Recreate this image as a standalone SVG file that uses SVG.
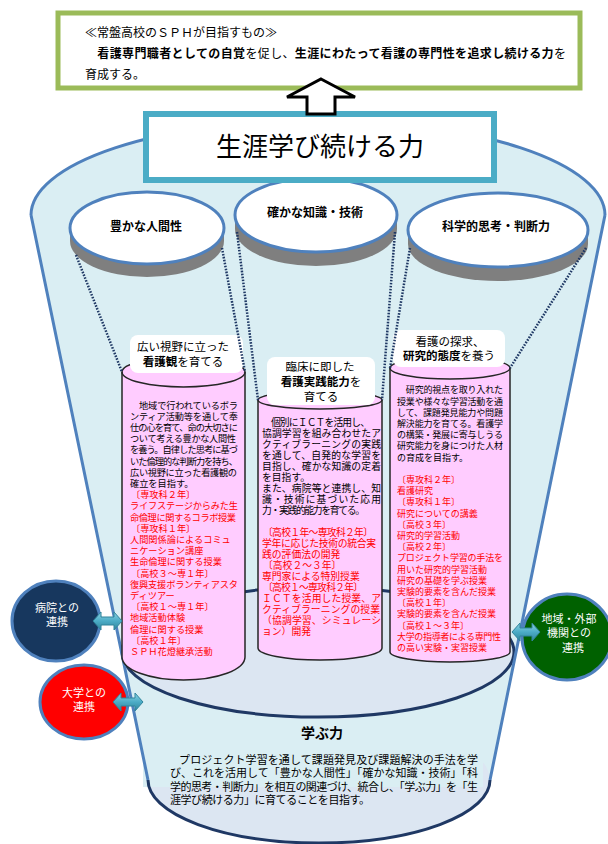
<svg xmlns="http://www.w3.org/2000/svg" width="608" height="844" viewBox="0 0 608 844">
<style>
text{font-family:"Liberation Sans","Noto Sans CJK JP",sans-serif;fill:#000}
.b{font-weight:bold}
.r{fill:#FF0000}
.c1{font-size:9.2px}
.c2{font-size:9.8px}
.c3{font-size:9px}
.lbl{font-size:11.5px;text-anchor:middle}
.disk-t{font-size:12px;font-weight:bold;text-anchor:middle}
.wt{fill:#fff;font-size:11px;text-anchor:middle}
.disk{fill:#fff;stroke:#4F81BD;stroke-width:3}
.shadow{fill:#7F7F7F}
.col{fill:#FFCCFF;stroke:#262626;stroke-width:1.5}
.box{fill:#fff}
.dot{fill:none;stroke:#1F3864;stroke-width:2.5;stroke-dasharray:1.6 1.4}
.darr{fill:url(#tg);stroke:#31859C;stroke-width:1}
</style>
<defs>
<linearGradient id="tg" x1="0" y1="0" x2="0" y2="1">
<stop offset="0" stop-color="#8FD3E4"/>
<stop offset="0.5" stop-color="#4BACC6"/>
<stop offset="1" stop-color="#31859C"/>
</linearGradient>
</defs>
<rect width="608" height="844" fill="#fff"/>

<g id="cup">
<path d="M31,215 L148,780 A171,63 0 0 0 490,780 L605,215 A287,95 0 0 0 31,215 Z" fill="#DAEEF3"/>
<ellipse cx="319" cy="780" rx="171" ry="63" fill="#DCE6F2"/>
<ellipse cx="318" cy="652" rx="196" ry="65" fill="#DCE6F2" stroke="#1F3864" stroke-width="3"/>
<rect x="143" y="719" width="340" height="68" fill="#DAEEF3"/>
<path d="M148,780 A171,63 0 0 0 490,780" fill="none" stroke="#1F3864" stroke-width="3"/>
<path d="M31,215 L148,780 M605,215 L490,780 M605,215 A287,95 0 0 0 31,215" fill="none" stroke="#4F81BD" stroke-width="3"/>
</g>

<g id="node-goal">
<rect x="58" y="13" width="522" height="75" fill="#fff" stroke="#9BBB59" stroke-width="5"/>
<text font-size="12"><tspan x="85" y="37">≪常盤高校のＳＰＨが目指すもの≫</tspan><tspan x="85" y="58" textLength="481" lengthAdjust="spacing">　<tspan class="b">看護専門職者としての自覚</tspan>を促し、<tspan class="b">生涯にわたって看護の専門性を追求し続ける力</tspan>を</tspan><tspan x="85" y="79">育成する。</tspan></text>
</g>

<g id="node-disk-1">
<path class="shadow" d="M70,228 L70,241 A77,36 0 0 0 224,241 L224,228 Z"/>
<ellipse class="disk" cx="147" cy="228" rx="77" ry="36"/>
<text class="disk-t" x="146" y="231">豊かな人間性</text>
</g>
<g id="node-disk-2">
<path class="shadow" d="M235,215 L235,229 A81,37 0 0 0 397,229 L397,215 Z"/>
<ellipse class="disk" cx="316" cy="215" rx="81" ry="37"/>
<text class="disk-t" x="315" y="217">確かな知識・技術</text>
</g>
<g id="node-disk-3">
<path class="shadow" d="M408,230 L408,244 A90,37 0 0 0 588,244 L588,230 Z"/>
<ellipse class="disk" cx="498" cy="230" rx="90" ry="37"/>
<text class="disk-t" x="496" y="231">科学的思考・判断力</text>
</g>

<g id="node-col-1">
<path class="col" d="M122,372 L122,657 A61.5,23 0 0 0 245,657 L245,372 A61.5,15 0 0 0 122,372 Z"/>
<path d="M122,372 A61.5,15 0 0 0 245,372" fill="none" stroke="#262626" stroke-width="1.5"/>
<rect class="box" x="130" y="335" width="113" height="38" rx="8"/>
<text class="lbl"><tspan x="183" y="351">広い視野に立った</tspan><tspan x="183" y="366"><tspan class="b">看護観</tspan>を育てる</tspan></text>
<text class="c1"><tspan x="130" y="408.5" textLength="108" lengthAdjust="spacing">　地域で行われているボラ</tspan><tspan x="130" y="419.7" textLength="108" lengthAdjust="spacing">ンティア活動等を通して奉</tspan><tspan x="130" y="430.9" textLength="108" lengthAdjust="spacing">仕の心を育て、命の大切さに</tspan><tspan x="130" y="442.1" textLength="106" lengthAdjust="spacing">ついて考える豊かな人間性</tspan><tspan x="130" y="453.3" textLength="108" lengthAdjust="spacing">を養う。自律した思考に基づ</tspan><tspan x="130" y="464.5" textLength="108" lengthAdjust="spacing">いた倫理的な判断力を持ち、</tspan><tspan x="130" y="475.7" textLength="107" lengthAdjust="spacing">広い視野に立った看護観の</tspan><tspan x="130" y="486.9">確立を目指す。</tspan><tspan class="r" x="131" y="498.1">〔専攻科２年〕</tspan><tspan class="r" x="130" y="509.3" textLength="108" lengthAdjust="spacing">ライフステージからみた生</tspan><tspan class="r" x="130" y="520.5" textLength="106" lengthAdjust="spacing">命倫理に関するコラボ授業</tspan><tspan class="r" x="131" y="531.7">〔専攻科１年〕</tspan><tspan class="r" x="130" y="542.9">人間関係論によるコミュ</tspan><tspan class="r" x="130" y="554.1">ニケーション講座</tspan><tspan class="r" x="130" y="565.3">生命倫理に関する授業</tspan><tspan class="r" x="131" y="576.5">〔高校３～専１年〕</tspan><tspan class="r" x="130" y="587.7" textLength="108" lengthAdjust="spacing">復興支援ボランティアスタ</tspan><tspan class="r" x="130" y="598.9">ディツアー</tspan><tspan class="r" x="131" y="610.1">〔高校１～専１年〕</tspan><tspan class="r" x="130" y="621.3">地域活動体験</tspan><tspan class="r" x="130" y="632.5">倫理に関する授業</tspan><tspan class="r" x="131" y="643.7">〔高校１年〕</tspan><tspan class="r" x="130" y="654.9">ＳＰＨ花燈継承活動</tspan></text>
</g>

<g id="node-col-2">
<path class="col" d="M258,400 L258,648 A62,12 0 0 0 382,648 L382,400 A62,9 0 0 0 258,400 Z"/>
<path d="M258,400 A62,9 0 0 0 382,400" fill="none" stroke="#262626" stroke-width="1.5"/>
<rect class="box" x="267" y="357" width="108" height="48" rx="8"/>
<text class="lbl"><tspan x="320" y="371">臨床に即した</tspan><tspan x="321" y="386"><tspan class="b">看護実践能力</tspan>を</tspan><tspan x="321" y="401">育てる</tspan></text>
<text class="c2"><tspan x="262" y="425.5" textLength="108" lengthAdjust="spacing">　個別にＩＣＴを活用し、</tspan><tspan x="262" y="436.5" textLength="119" lengthAdjust="spacing">協調学習を組み合わせたア</tspan><tspan x="262" y="447.5" textLength="119" lengthAdjust="spacing">クティブラーニングの実践</tspan><tspan x="262" y="458.5" textLength="119" lengthAdjust="spacing">を通して、自発的な学習を</tspan><tspan x="262" y="469.5" textLength="119" lengthAdjust="spacing">目指し、確かな知識の定着</tspan><tspan x="262" y="480.5">を目指す。</tspan><tspan x="262" y="491.5" textLength="119" lengthAdjust="spacing">また、病院等と連携し、知</tspan><tspan x="262" y="502.5" textLength="119" lengthAdjust="spacing">識・技術に基づいた応用</tspan><tspan x="262" y="513.5" textLength="103" lengthAdjust="spacing">力・実践的能力を育てる。</tspan><tspan class="r" x="263" y="535.5" textLength="110" lengthAdjust="spacing">〔高校１年～専攻科２年〕</tspan><tspan class="r" x="262" y="546.5" textLength="114" lengthAdjust="spacing">学年に応じた技術の統合実</tspan><tspan class="r" x="262" y="557.5">践の評価法の開発</tspan><tspan class="r" x="263" y="568.5">〔高校２～３年〕</tspan><tspan class="r" x="262" y="579.5">専門家による特別授業</tspan><tspan class="r" x="263" y="590.5" textLength="100" lengthAdjust="spacing">〔高校１～専攻科２年〕</tspan><tspan class="r" x="262" y="601.5" textLength="119" lengthAdjust="spacing">ＩＣＴを活用した授業、ア</tspan><tspan class="r" x="262" y="612.5" textLength="118" lengthAdjust="spacing">クティブラーニングの授業</tspan><tspan class="r" x="262" y="623.5" textLength="119" lengthAdjust="spacing">（協調学習、シミュレーシ</tspan><tspan class="r" x="262" y="634.5">ョン）開発</tspan></text>
</g>

<g id="node-col-3">
<path class="col" d="M390,368 L390,652 A60,10 0 0 0 510,652 L510,368 A60,11 0 0 0 390,368 Z"/>
<path d="M390,368 A60,11 0 0 0 510,368" fill="none" stroke="#262626" stroke-width="1.5"/>
<rect class="box" x="393" y="330" width="112" height="37" rx="8"/>
<text class="lbl"><tspan x="450" y="346">看護の探求、</tspan><tspan x="449" y="360"><tspan class="b">研究的態度</tspan>を養う</tspan></text>
<text class="c3"><tspan x="397" y="393.3" textLength="106" lengthAdjust="spacing">　研究的視点を取り入れた</tspan><tspan x="397" y="404.5" textLength="106" lengthAdjust="spacing">授業や様々な学習活動を通</tspan><tspan x="397" y="415.7" textLength="106" lengthAdjust="spacing">して、課題発見能力や問題</tspan><tspan x="397" y="426.9" textLength="106" lengthAdjust="spacing">解決能力を育てる。看護学</tspan><tspan x="397" y="438.1" textLength="106" lengthAdjust="spacing">の構築・発展に寄与しうる</tspan><tspan x="397" y="449.3" textLength="106" lengthAdjust="spacing">研究能力を身につけた人材</tspan><tspan x="397" y="460.5">の育成を目指す。</tspan><tspan class="r" x="397" y="482.9">〔専攻科２年〕</tspan><tspan class="r" x="397" y="494.1">看護研究</tspan><tspan class="r" x="397" y="505.3">〔専攻科１年〕</tspan><tspan class="r" x="397" y="516.5">研究についての講義</tspan><tspan class="r" x="397" y="527.7">〔高校３年〕</tspan><tspan class="r" x="397" y="538.9">研究的学習活動</tspan><tspan class="r" x="397" y="550.1">〔高校２年〕</tspan><tspan class="r" x="397" y="561.3" textLength="106" lengthAdjust="spacing">プロジェクト学習の手法を</tspan><tspan class="r" x="397" y="572.5">用いた研究的学習活動</tspan><tspan class="r" x="397" y="583.7">研究の基礎を学ぶ授業</tspan><tspan class="r" x="397" y="594.9">実験的要素を含んだ授業</tspan><tspan class="r" x="397" y="606.1">〔高校１年〕</tspan><tspan class="r" x="397" y="617.3">実験的要素を含んだ授業</tspan><tspan class="r" x="397" y="628.5">〔高校１～３年〕</tspan><tspan class="r" x="397" y="639.7" textLength="104" lengthAdjust="spacing">大学の指導者による専門性</tspan><tspan class="r" x="397" y="650.9">の高い実験・実習授業</tspan></text>
</g>

<g id="node-manabu">
<text x="322" y="738" font-size="14" class="b" text-anchor="middle">学ぶ力</text>
<text font-size="11"><tspan x="168" y="764" textLength="310" lengthAdjust="spacing">　プロジェクト学習を通して課題発見及び課題解決の手法を学</tspan><tspan x="170" y="777" textLength="308" lengthAdjust="spacing">び、これを活用して「豊かな人間性」「確かな知識・技術」「科</tspan><tspan x="170" y="791" textLength="308" lengthAdjust="spacing">学的思考・判断力」を相互の関連づけ、統合し、「学ぶ力」を「生</tspan><tspan x="170" y="804" textLength="200" lengthAdjust="spacing">涯学び続ける力」に育てることを目指す。</tspan></text>
</g>

<g id="node-hospital">
<ellipse cx="56" cy="621" rx="44" ry="40" fill="#17375E" stroke="#4F81BD" stroke-width="3"/>
<text class="wt"><tspan x="57" y="612">病院との</tspan><tspan x="57" y="626">連携</tspan></text>
</g>
<g id="node-univ">
<ellipse cx="84" cy="702" rx="44" ry="37" fill="#FF0000" stroke="#4F81BD" stroke-width="3"/>
<text class="wt"><tspan x="84" y="697">大学との</tspan><tspan x="84" y="711">連携</tspan></text>
</g>
<g id="node-region">
<ellipse cx="567" cy="637" rx="45" ry="43" fill="#006100" stroke="#4F81BD" stroke-width="3"/>
<text class="wt"><tspan x="569" y="623">地域・外部</tspan><tspan x="569" y="637">機関との</tspan><tspan x="573" y="652">連携</tspan></text>
</g>

<g id="node-title">
<rect x="146" y="114" width="348" height="66" fill="#fff" stroke="#4BACC6" stroke-width="6"/>
<text x="320" y="156" font-size="26" text-anchor="middle" fill="#262626">生涯学び続ける力</text>
</g>

<g id="connectors">
<path d="M321,79 L355,97 L335,97 L335,114 L307,114 L307,97 L287,97 Z" fill="#fff" stroke="#000" stroke-width="3" stroke-linejoin="miter"/>
<line class="dot" x1="76" y1="255" x2="122" y2="372"/>
<line class="dot" x1="222" y1="248" x2="245" y2="372"/>
<line class="dot" x1="237" y1="232" x2="258" y2="400"/>
<line class="dot" x1="395" y1="232" x2="382" y2="400"/>
<line class="dot" x1="410" y1="248" x2="390" y2="368"/>
<line class="dot" x1="586" y1="248" x2="510" y2="368"/>
<path class="darr" d="M93,621 L101,612 L101,617 L114,617 L114,612 L122,621 L114,630 L114,625 L101,625 L101,630 Z"/>
<path class="darr" d="M113,702 L121,693 L121,698 L135,698 L135,693 L143,702 L135,711 L135,706 L121,706 L121,711 Z"/>
<path class="darr" d="M512,632 L520,623 L520,628 L532,628 L532,623 L540,632 L532,641 L532,636 L520,636 L520,641 Z"/>
</g>
</svg>
